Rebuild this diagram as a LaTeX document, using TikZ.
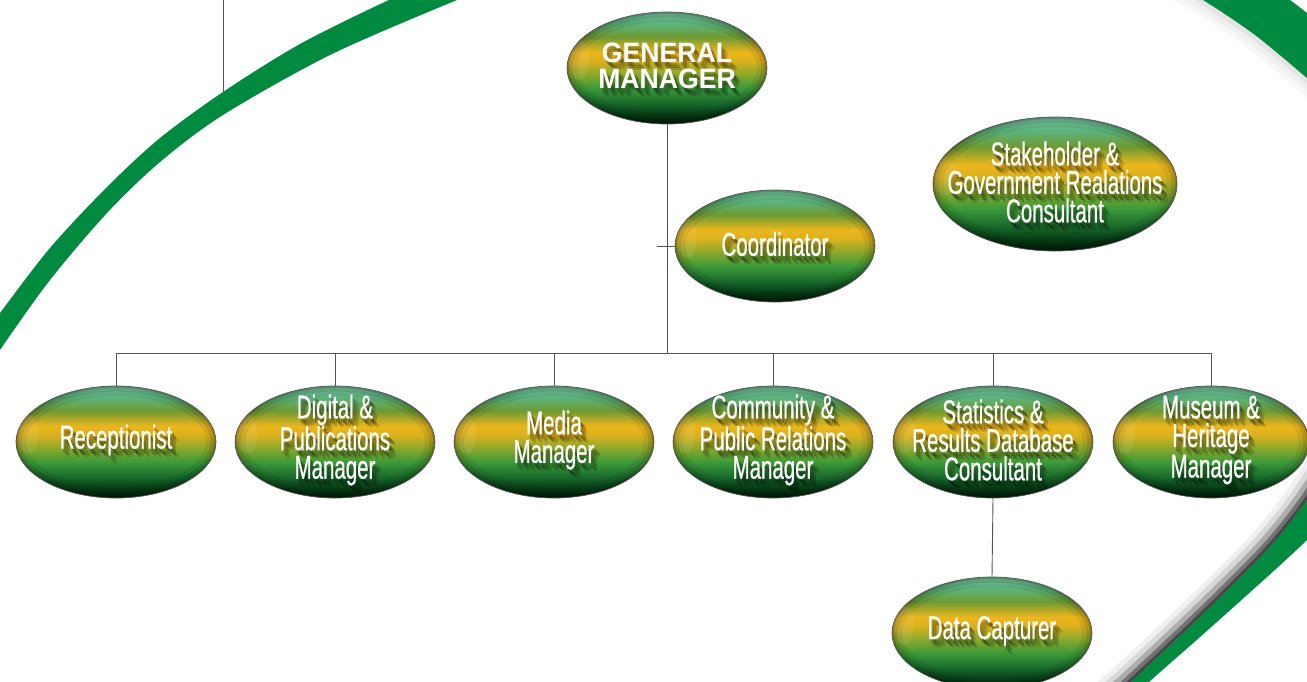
\documentclass[tikz,border=0pt]{standalone}
\usepackage{fontspec}
\usetikzlibrary{shapes.geometric}
\newfontfamily\condf[FakeStretch=0.62,FakeBold=0.6]{Liberation Sans}
\newfontfamily\gmfont[FakeStretch=0.95]{Liberation Sans}
\newcommand\condsz{\condf\fontsize{33}{28.5}\selectfont}
\newcommand\gmsz{\gmfont\fontsize{28}{26.7}\selectfont\bfseries}
\definecolor{ringgreen}{HTML}{008A40}
\definecolor{p1}{HTML}{7CC9A2}
\definecolor{p2}{HTML}{5BB47E}
\definecolor{p3}{HTML}{6E9A33}
\definecolor{p4}{HTML}{EDB61C}
\definecolor{p5}{HTML}{D9B11E}
\definecolor{p6}{HTML}{8EA82A}
\definecolor{p7}{HTML}{3C9A3A}
\definecolor{p8}{HTML}{17672A}
\definecolor{p9}{HTML}{063A14}
\definecolor{p10}{HTML}{021F0A}
\definecolor{lineg}{HTML}{555555}
\pgfdeclareverticalshading{pill}{100bp}{color(0bp)=(p10); color(25bp)=(p10); color(29bp)=(p9); color(34bp)=(p8); color(41bp)=(p7); color(47.5bp)=(p6); color(53bp)=(p5); color(57bp)=(p4); color(64bp)=(p3); color(70bp)=(p2); color(75bp)=(p1); color(100bp)=(p1)}
\newcommand\mkpill[7]{%
  \node[pillnode={#4}{#5}] (#1) at (#2,#3) {};
  \node[lblsh, font=#7, opacity=.20] at (#2+2,#3+2) {#6};
  \node[lblsh, font=#7, opacity=.22] at (#2+4,#3+4) {#6};
  \node[lblsh, font=#7, opacity=.14] at (#2+6,#3+6) {#6};
  \node[lbl, font=#7] at (#2,#3-2) {#6};
}
\begin{document}
\begin{tikzpicture}[x=1pt,y=-1pt,
  pillnode/.style 2 args={ellipse, minimum width=2*#1pt, minimum height=2*#2pt, inner sep=0pt,
    shading=pill, draw=lineg, line width=0.7pt,
    path picture={
      \draw[black, opacity=.07, line width=20pt] (path picture bounding box.center) ellipse (#1pt and #2pt);
      \draw[black, opacity=.10, line width=11pt] (path picture bounding box.center) ellipse (#1pt and #2pt);
      \draw[black, opacity=.15, line width=4pt] (path picture bounding box.center) ellipse (#1pt and #2pt);
      \fill[white, opacity=.08] ([xshift=12pt,yshift=8pt]path picture bounding box.west) ellipse (10pt and 20pt);
    }},
  lbl/.style={text=white, align=center, inner sep=0pt},
  lblsh/.style={text=black, align=center, inner sep=0pt},
  conn/.style={draw=lineg, line width=0.9pt}
]
\useasboundingbox (0,0) rectangle (1307,681);
\clip (0,0) rectangle (1307,681);
\fill[white] (0,0) rectangle (1307,681);

% connector leaving the top-left edge
\coordinate (topA) at (223,-5);
\coordinate (topB) at (223,100);
\draw[conn] (topA) -- (topB);

% shadow inside the lower-right band
\begin{scope}
  \clip plot[smooth] coordinates {(1345,440) (1307,500) (1267,550) (1200,617) (1132,681) (1110,700)} -- (900,700) -- (900,440) -- cycle;
  \foreach \w/\c in {44/6,34/15,24/32,14/55,6/72}{
    \draw[black!\c, line width=\w pt] plot[smooth] coordinates {(1345,440) (1307,500) (1267,550) (1200,617) (1132,681) (1110,700)};
  }
\end{scope}
% light shadow inside the top-right band
\begin{scope}
  \clip plot[smooth] coordinates {(1150,-30) (1203,0) (1255,35) (1307,78) (1335,102)} -- (1335,300) -- (1100,300) -- (1100,-30) -- cycle;
  \foreach \w/\c in {30/3,20/6,10/10}{
    \draw[black!\c, line width=\w pt] plot[smooth] coordinates {(1150,-30) (1203,0) (1255,35) (1307,78) (1335,102)};
  }
\end{scope}

% green swoosh
\fill[ringgreen] plot[smooth] coordinates {(-25,348) (0,313) (50,248) (107,187) (160,138) (223,92) (300,44) (389,0) (450,-25)}
  -- plot[smooth] coordinates {(530,-28) (457,0) (330,55) (223,115) (160,162) (107,213) (50,280) (0,350) (-20,382)} -- cycle;
\fill[ringgreen] plot[smooth] coordinates {(1150,-30) (1203,0) (1255,35) (1307,78) (1335,102)}
  -- (1350,102) -- (1350,31)
  -- plot[smooth] coordinates {(1330,31) (1307,13) (1290,0) (1260,-21)} -- cycle;
\fill[ringgreen] plot[smooth] coordinates {(1345,440) (1307,500) (1267,550) (1200,617) (1132,681) (1110,700)}
  -- (1130,700)
  -- plot[smooth] coordinates {(1130,700) (1150,681) (1200,637) (1267,577) (1307,540) (1330,515)} -- cycle;

% nodes
\mkpill{gm}{667}{68}{100}{56}{GENERAL\\MANAGER}{\gmsz}
\mkpill{coord}{775}{246}{100}{56}{Coordinator}{\condsz}
\mkpill{stake}{1055}{184}{122}{67}{Stakeholder \&\\Government Realations\\Consultant}{\condsz}
\mkpill{rec}{116}{442}{100}{56}{Receptionist}{\condsz}
\mkpill{dig}{335}{442}{100}{56}{Digital \&\\Publications\\Manager}{\condsz}
\mkpill{med}{554}{442}{100}{56}{Media\\Manager}{\condsz}
\mkpill{com}{773}{442}{100}{56}{Community \&\\Public Relations\\Manager}{\condsz}
\mkpill{stat}{993}{442}{100}{56}{Statistics \&\\Results Database\\Consultant}{\condsz}
\mkpill{mus}{1211}{442}{98}{56}{Museum \&\\Heritage\\Manager}{\condsz}
\mkpill{data}{992}{633}{100}{56}{Data Capturer}{\condsz}

% connectors
\coordinate (bus) at (0,353);
\coordinate (tick) at (657,246);
\draw[conn] (gm.south) -- (gm.south |- bus);
\draw[conn] (coord.west) -- (tick);
\draw[conn] (rec.north |- bus) -- (mus.north |- bus);
\foreach \n in {rec,dig,med,com,stat,mus}{
  \draw[conn] (\n.north) -- (\n.north |- bus);
}
\draw[conn] (stat.south) -- (data.north);
\end{tikzpicture}
\end{document}
